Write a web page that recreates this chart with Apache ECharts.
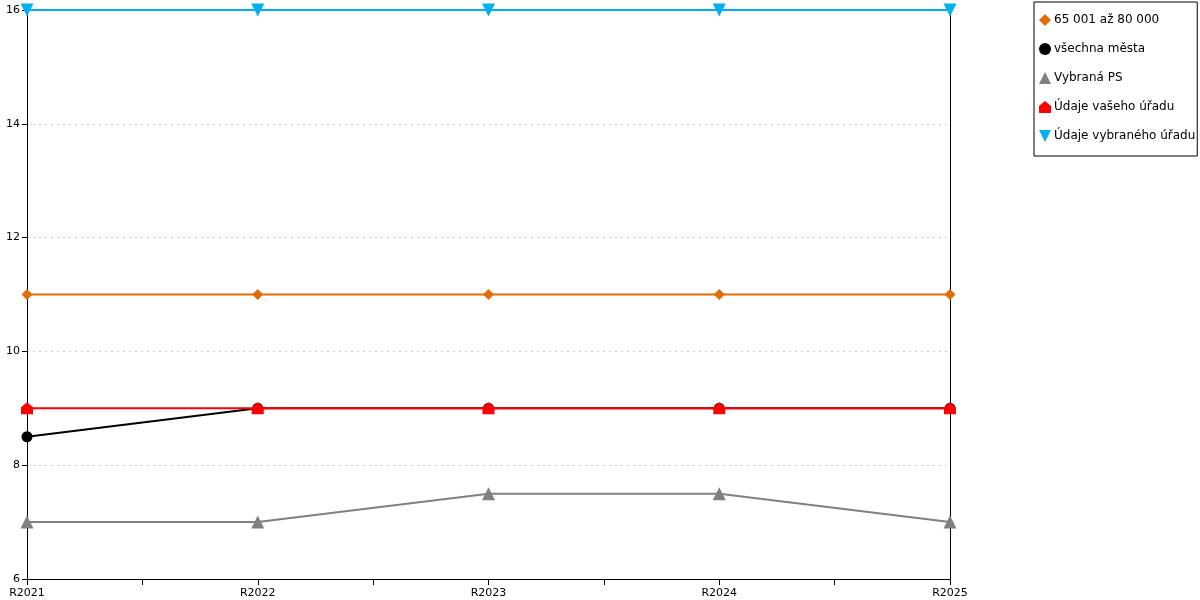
<!DOCTYPE html>
<html>
<head>
<meta charset="utf-8">
<script src="https://cdn.jsdelivr.net/npm/echarts@6/dist/echarts.min.js"></script>
<style>
    html, body { margin: 0; padding: 0; background: #fff; }
    #chart { width: 1200px; height: 600px; }
</style>
</head>
<body>
<div id="chart"></div>
<script>
// kategorie na ose x
var years = ['R2021', 'R2022', 'R2023', 'R2024', 'R2025'];

// hodnoty řad
var skupina = [11, 11, 11, 11, 11];
var vsechnaMesta = [8.5, 9, 9, 9, 9];
var vybranaPS = [7, 7, 7.5, 7.5, 7];
var vasUrad = [9, 9, 9, 9, 9];
var vybranyUrad = [16, 16, 16, 16, 16];

var yTicks = [6, 8, 10, 12, 14, 16];

var housePath = 'path://M0,5 L6,0 L12,5 L12,12 L0,12 Z';

function pairs(values) {
    var out = [];
    for (var i = 0; i < values.length; i++) {
        out.push([i, values[i]]);
    }
    return out;
}

function makeSeries(name, values, color, symbol, size, rotate) {
    return {
        name: name,
        type: 'line',
        data: pairs(values),
        symbol: symbol,
        symbolSize: size,
        symbolRotate: rotate || 0,
        showAllSymbol: true,
        lineStyle: { color: color, width: 2 },
        itemStyle: { color: color, borderWidth: 0 },
        emphasis: { disabled: true },
        animation: false
    };
}

var chart = echarts.init(document.getElementById('chart'), null, { renderer: 'canvas' });

var option = {
    animation: false,
    textStyle: { fontFamily: 'DejaVu Sans' },
    grid: {
        left: 27,
        right: 250,
        top: 10,
        bottom: 21,
        show: false
    },
    legend: {
        orient: 'vertical',
        left: 1034,
        top: 2,
        padding: [12, 2, 14, 5],
        itemGap: 17,
        itemWidth: 12,
        itemHeight: 12,
        backgroundColor: '#fff',
        borderColor: '#000',
        borderWidth: 1,
        borderRadius: 0,
        textStyle: { color: '#000', fontSize: 12, fontFamily: 'DejaVu Sans', padding: [0, 0, 0, -2] },
        data: [
            { name: '65 001 až 80 000', icon: 'diamond' },
            { name: 'všechna města', icon: 'circle' },
            { name: 'Vybraná PS', icon: 'triangle' },
            { name: 'Údaje vašeho úřadu', icon: housePath },
            { name: 'Údaje vybraného úřadu', icon: 'path://M0,0 L12,0 L6,12 Z' }
        ]
    },
    xAxis: {
        type: 'value',
        min: 0,
        max: years.length - 1,
        interval: 0.5,
        axisLine: { lineStyle: { color: '#000', width: 1 } },
        axisTick: { show: true, length: 6, lineStyle: { color: '#000' } },
        splitLine: { show: false },
        axisLabel: {
            color: '#000',
            fontSize: 11,
            margin: 9,
            showMinLabel: true,
            showMaxLabel: true,
            formatter: function (v) {
                return Number.isInteger(v) ? years[v] : '';
            }
        }
    },
    yAxis: [
        {
            type: 'value',
            min: yTicks[0],
            max: yTicks[yTicks.length - 1],
            interval: 2,
            axisLine: { show: true, lineStyle: { color: '#000', width: 1 } },
            axisTick: { show: true, length: 5, lineStyle: { color: '#000' } },
            splitLine: { show: true, lineStyle: { color: '#c8c8c8', type: [2, 4], width: 1 } },
            axisLabel: { color: '#000', fontSize: 11, margin: 7 }
        },
        {
            type: 'value',
            position: 'right',
            min: yTicks[0],
            max: yTicks[yTicks.length - 1],
            interval: 2,
            axisLine: { show: true, lineStyle: { color: '#000', width: 1 } },
            axisTick: { show: false },
            splitLine: { show: false },
            axisLabel: { show: false }
        }
    ],
    series: [
        makeSeries('65 001 až 80 000', skupina, '#e36c0a', 'diamond', 11),
        makeSeries('všechna města', vsechnaMesta, '#000000', 'circle', 11),
        makeSeries('Vybraná PS', vybranaPS, '#808080', 'triangle', 13),
        makeSeries('Údaje vašeho úřadu', vasUrad, '#ff0000', housePath, 12),
        makeSeries('Údaje vybraného úřadu', vybranyUrad, '#00b0f0', 'triangle', 13, 180)
    ]
};

chart.setOption(option);
</script>
</body>
</html>
